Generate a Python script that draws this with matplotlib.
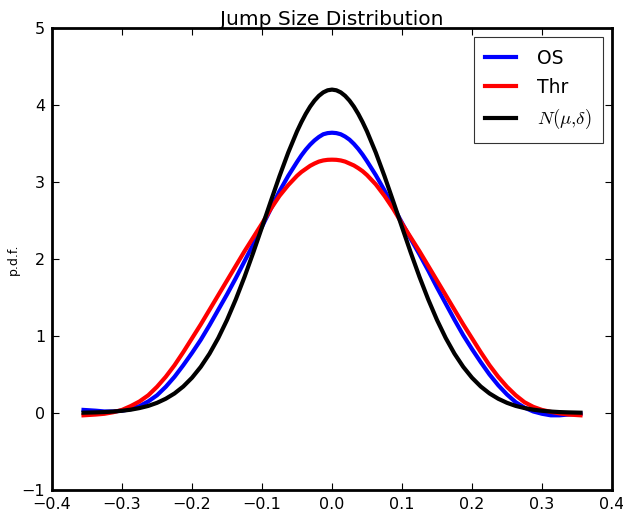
import matplotlib
matplotlib.use("Agg")
import matplotlib.pyplot as plt

plt.rcParams["mathtext.fontset"] = "cm"

x = [-0.355, -0.3375, -0.325, -0.3125, -0.3, -0.2875, -0.275, -0.2625, -0.25, -0.2375,
     -0.225, -0.2125, -0.2, -0.1875, -0.175, -0.1625, -0.15, -0.1375, -0.125, -0.1125,
     -0.1, -0.0875, -0.075, -0.0625, -0.05, -0.04375, -0.0375, -0.03125, -0.025,
     -0.01875, -0.0125, -0.00625, 0.0, 0.00625, 0.0125, 0.01875,
     0.025, 0.03125, 0.0375, 0.04375, 0.05, 0.0625, 0.075, 0.0875, 0.1, 0.1125, 0.125,
     0.1375, 0.15, 0.1625, 0.175, 0.1875, 0.2, 0.2125, 0.225, 0.2375, 0.25,
     0.2625, 0.275, 0.2875, 0.3, 0.3125, 0.325, 0.3375, 0.355]

os_pdf = [0.04, 0.03, 0.02, 0.02, 0.03, 0.05, 0.09, 0.15, 0.23, 0.34,
          0.47, 0.62, 0.78, 0.95, 1.14, 1.34, 1.54, 1.75, 1.97, 2.19,
          2.42, 2.65, 2.88, 3.08, 3.26, 3.345, 3.42, 3.485, 3.54,
          3.585, 3.62, 3.635, 3.64, 3.635, 3.62, 3.59,
          3.55, 3.495, 3.43, 3.355, 3.27, 3.09, 2.89, 2.68, 2.47, 2.26, 2.06,
          1.85, 1.63, 1.42, 1.21, 1.01, 0.83, 0.66, 0.50, 0.36, 0.24,
          0.14, 0.07, 0.02, -0.01, -0.03, -0.03, -0.02, -0.01]

thr_pdf = [-0.03, -0.02, -0.01, 0.01, 0.04, 0.09, 0.15, 0.23, 0.34, 0.47,
           0.62, 0.79, 0.97, 1.15, 1.34, 1.53, 1.72, 1.91, 2.10, 2.28,
           2.46, 2.65, 2.82, 2.96, 3.08, 3.13, 3.17, 3.21, 3.24,
           3.265, 3.28, 3.288, 3.29, 3.288, 3.28, 3.265,
           3.24, 3.215, 3.18, 3.14, 3.09, 2.97, 2.82, 2.65, 2.46, 2.28, 2.10,
           1.91, 1.72, 1.53, 1.34, 1.15, 0.97, 0.79, 0.62, 0.47, 0.34,
           0.23, 0.14, 0.08, 0.04, 0.015, -0.005, -0.02, -0.03]

norm_pdf = [0.004, 0.008, 0.012, 0.019, 0.029, 0.043, 0.064, 0.092, 0.132, 0.185,
            0.254, 0.344, 0.458, 0.599, 0.770, 0.973, 1.208, 1.474, 1.767, 2.083,
            2.414, 2.748, 3.076, 3.383, 3.657, 3.777, 3.885, 3.979, 4.057,
            4.119, 4.164, 4.191, 4.200, 4.191, 4.164, 4.119,
            4.057, 3.979, 3.885, 3.777, 3.657, 3.383, 3.076, 2.748, 2.414, 2.083, 1.767,
            1.474, 1.208, 0.973, 0.770, 0.599, 0.458, 0.344, 0.254, 0.185, 0.132,
            0.092, 0.064, 0.043, 0.029, 0.019, 0.012, 0.008, 0.004]

labels = ["OS", "Thr", r"$N(\mu{,}\delta)$"]
colors = ["blue", "red", "black"]

fig = plt.figure(figsize=(6.23, 5.12), dpi=100)
ax = fig.add_axes([52 / 623, 22 / 512, 560 / 623, 462 / 512])

for ys, lab, c in zip([os_pdf, thr_pdf, norm_pdf], labels, colors):
    ax.plot(x, ys, color=c, lw=3, label=lab, solid_joinstyle="round")

ax.set_xlim(-0.4, 0.4)
ax.set_ylim(-1, 5)
ax.set_xticks([-0.4, -0.3, -0.2, -0.1, 0.0, 0.1, 0.2, 0.3, 0.4])
ax.set_yticks([-1, 0, 1, 2, 3, 4, 5])
ax.tick_params(direction="in", top=True, right=True, length=5, width=0.8,
               labelsize=11.5, pad=5)
for s in ax.spines.values():
    s.set_linewidth(2)

ax.set_title("Jump Size Distribution", fontsize=14.5, pad=2)
ax.set_ylabel("p.d.f.", fontsize=9, labelpad=1)

leg = ax.legend(loc="upper right", fontsize=13.5, handlelength=1.65,
                fancybox=False, borderaxespad=0.5, labelspacing=0.55,
                handletextpad=1.1, borderpad=0.6)
leg.get_frame().set_edgecolor("black")
leg.get_frame().set_linewidth(0.8)

fig.savefig("out.png", dpi=100)
